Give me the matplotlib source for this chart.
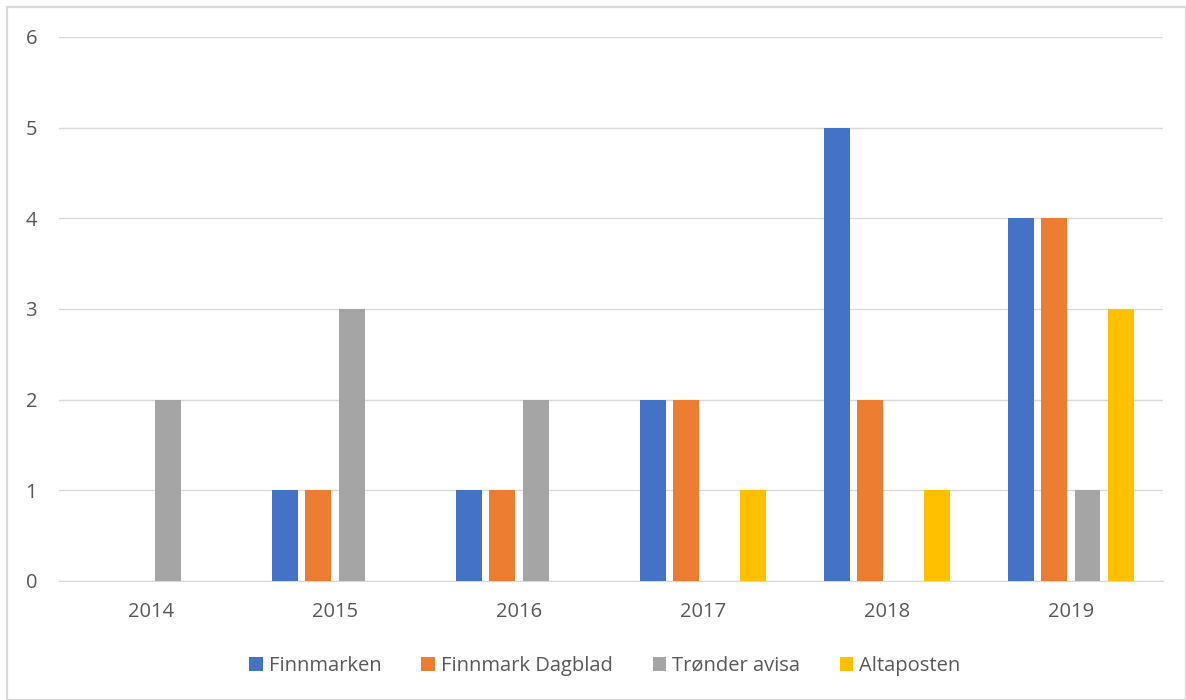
import matplotlib
matplotlib.use("Agg")
import matplotlib.pyplot as plt
import numpy as np
from matplotlib.patches import Rectangle

years = ["2014", "2015", "2016", "2017", "2018", "2019"]
finnmarken = [0, 1, 1, 2, 5, 4]
finnmark_dagblad = [0, 1, 1, 2, 2, 4]
tronder_avisa = [2, 3, 2, 0, 0, 1]
altaposten = [0, 0, 0, 1, 1, 3]

series = [
    ("Finnmarken", finnmarken, "#4472C4"),
    ("Finnmark Dagblad", finnmark_dagblad, "#ED7D31"),
    ("Trønder avisa", tronder_avisa, "#A5A5A5"),
    ("Altaposten", altaposten, "#FFC000"),
]

plt.rcParams['font.family'] = ['Open Sans', 'DejaVu Sans']
txt = "#595959"

fig = plt.figure(figsize=(11.86, 7.0), dpi=100)
ax = fig.add_axes([59.3/1186, 1-581/700, (1162.7-59.3)/1186, (581-37)/700])

x = np.arange(len(years))
step = 0.182
width = 0.141
for i, (name, vals, col) in enumerate(series):
    ax.bar(x + (i - 1.5) * step, vals, width=width, color=col, label=name, zorder=3)

ax.set_xlim(-0.5, 5.5)
ax.set_ylim(0, 6)
ax.set_yticks(range(0, 7))
ax.set_xticks(x)
ax.set_xticklabels(years)
ax.yaxis.grid(True, color="#D9D9D9", linewidth=1, zorder=0)
ax.tick_params(axis='both', length=0, labelsize=14.5, colors=txt)
ax.tick_params(axis='x', pad=15)
ax.tick_params(axis='y', pad=16)
for s in ["top", "right", "left"]:
    ax.spines[s].set_visible(False)
ax.spines["bottom"].set_color("#D9D9D9")

leg = fig.legend(loc="center", bbox_to_anchor=(605/1186, 1-666/700), ncol=4, frameon=False,
                 fontsize=14.5, handlelength=0.65, handleheight=0.65, columnspacing=2.0, handletextpad=0.3)
for t in leg.get_texts():
    t.set_color(txt)

fig.patches.append(Rectangle((7/1186, 0), 1 - 7/1186, 1 - 7/700, transform=fig.transFigure,
                             fill=False, edgecolor="#D9D9D9", linewidth=1.6))

fig.savefig("out.png", dpi=100)
